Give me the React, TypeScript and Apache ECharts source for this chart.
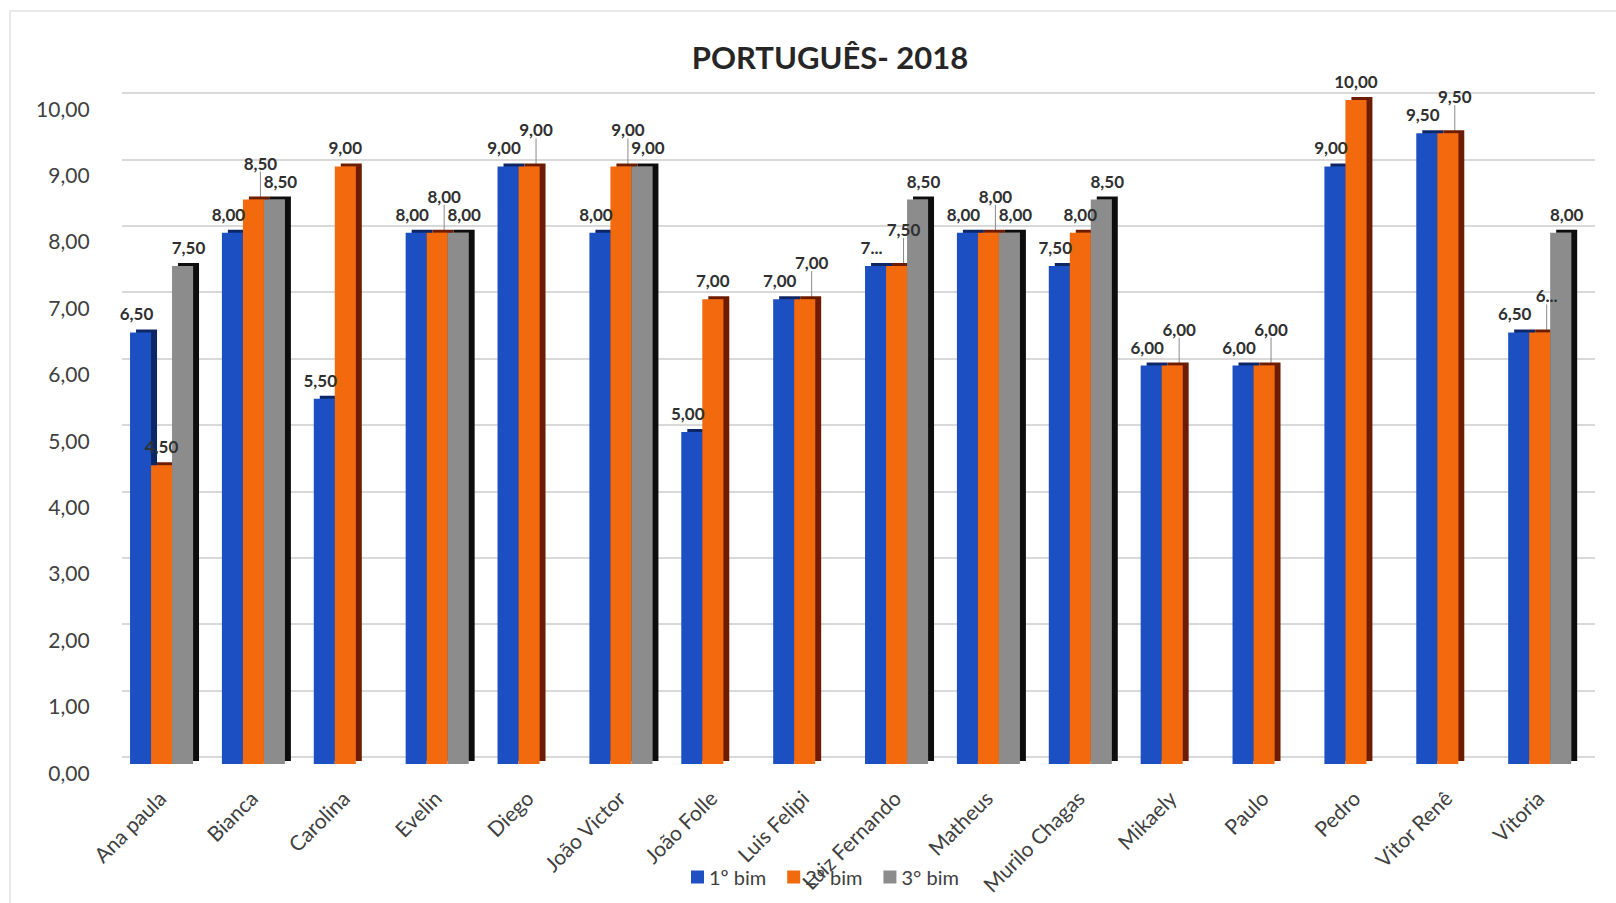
import React, { useEffect, useRef } from "react";
import * as echarts from "echarts";

const categories = [
  "Ana paula", "Bianca", "Carolina", "Evelin", "Diego", "João Victor", "João Folle", "Luis Felipi",
  "Luiz Fernando", "Matheus", "Murilo Chagas", "Mikaely", "Paulo", "Pedro", "Vitor Renê", "Vitoria",
];
const seriesNames = ["1º bim", "2º bim", "3° bim"];
const bim1 = [6.5, 8, 5.5, 8, 9, 8, 5, 7, 7.5, 8, 7.5, 6, 6, 9, 9.5, 6.5];
const bim2 = [4.5, 8.5, 9, 8, 9, 9, 7, 7, 7.5, 8, 8, 6, 6, 10, 9.5, 6.5];
const bim3 = [7.5, 8.5, null, 8, null, 9, null, null, 8.5, 8, 8.5, null, null, null, null, 8];
// labels that the original chart shows truncated: [series, category]
const truncatedLabels: [number, number][] = [[0, 8], [1, 15]];

const colors = ["#1f4fc2", "#f26a0e", "#8c8c8c"];
const sideColors = ["#0a2566", "#6e1f00", "#111111"];

const fmt = (v: number) => v.toFixed(2).replace(".", ",");

export default function App() {
  const ref = useRef<HTMLDivElement>(null);
  useEffect(() => {
    if (!ref.current) return;
    const chart = echarts.init(ref.current, undefined, { renderer: "svg" });
    const all = [bim1, bim2, bim3];
    const font = "Lato, 'Open Sans', sans-serif";
    const near = (a: number | null, b: number | null) =>
      a != null && b != null && Math.abs(a - b) < 0.3;
    const raisedOrange = (i: number) => near(bim2[i], bim1[i]) || near(bim2[i], bim3[i]);
    chart.setOption({
      animation: false,
      backgroundColor: "#ffffff",
      title: {
        text: "PORTUGUÊS- 2018",
        left: 825,
        textAlign: "center",
        top: 36,
        textStyle: { fontFamily: font, fontWeight: "bold", fontSize: 31, color: "#262626" },
      },
      grid: [
        { left: 115.6, right: 30.4, top: 100, bottom: 139 },
        { left: 122, right: 21, top: 93, bottom: 146 },
        { left: 115.6, right: 30.4, top: 108, bottom: 131 },
      ],
      legend: {
        data: seriesNames,
        top: 862,
        left: 686,
        icon: "rect",
        itemWidth: 13,
        itemHeight: 13,
        itemGap: 21,
        textStyle: { fontFamily: font, fontSize: 20, color: "#404040" },
      },
      xAxis: [
        {
          type: "category",
          data: categories,
          gridIndex: 0,
          axisLine: { show: false },
          axisTick: { show: false },
          axisLabel: {
            rotate: 45,
            interval: 0,
            margin: 30,
            fontFamily: font,
            fontSize: 21,
            color: "#404040",
          },
        },
        { type: "category", data: categories, gridIndex: 1, show: false },
        { type: "category", data: categories, gridIndex: 2, show: false },
      ],
      yAxis: [
        {
          type: "value",
          gridIndex: 0,
          min: 0,
          max: 10,
          interval: 1,
          show: false,
        },
        {
          type: "value",
          gridIndex: 1,
          min: 0,
          max: 10,
          interval: 1,
          axisLine: { show: false },
          axisTick: { show: false },
          axisLabel: { show: false },
          splitLine: { lineStyle: { color: "#d9d9d9", width: 2 } },
        },
        {
          type: "value",
          gridIndex: 2,
          min: 0,
          max: 10,
          interval: 1,
          axisLine: { show: false },
          axisTick: { show: false },
          splitLine: { show: false },
          axisLabel: {
            margin: 26,
            fontFamily: font,
            fontSize: 21,
            color: "#404040",
            formatter: (v: number) => fmt(v),
          },
        },
      ],
      series: all.map((d, si) => ({
        name: seriesNames[si],
        type: "bar",
        xAxisIndex: 0,
        yAxisIndex: 0,
        barWidth: 21,
        barGap: "0%",
        data: d.map((v, i) => ({
          value: v,
          label: truncatedLabels.some(([s, c]) => s === si && c === i)
            ? { formatter: () => fmt(v as number).charAt(0) + "..." }
            : undefined,
          labelLine: { show: si === 1 && raisedOrange(i) },
        })),
        itemStyle: {
          color: colors[si],
          shadowColor: sideColors[si],
          shadowOffsetX: 6,
          shadowOffsetY: -3,
          shadowBlur: 0,
        },
        label: {
          show: true,
          position: "top",
          distance: 10,
          fontFamily: font,
          fontWeight: "bold",
          fontSize: 17,
          color: "#303030",
          formatter: (p: any) => fmt(p.value),
        },
        labelLine: { show: false, lineStyle: { color: "#8a8a8a", width: 1 } },
        labelLayout: (p: any) => {
          const i = p.dataIndex;
          if (si === 1) return raisedOrange(i) ? { dy: -18, dx: 7 } : {};
          if (si === 0) return { dx: -4 };
          return { dx: 6 };
        },
      })),
      graphic: [
        {
          type: "rect",
          shape: { x: 10, y: 11, width: 1620, height: 900 },
          style: { fill: "none", stroke: "#e2e2e2", lineWidth: 1.5 },
          silent: true,
        },
      ],
    });
    return () => chart.dispose();
  }, []);
  return (
    <div
      ref={ref}
      style={{ position: "absolute", left: 0, top: 0, width: 1616, height: 903 }}
    />
  );
}
